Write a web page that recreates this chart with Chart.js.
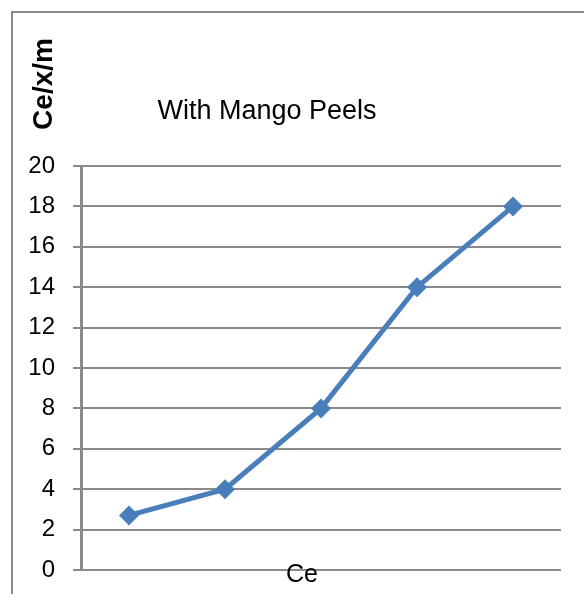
<!DOCTYPE html>
<html>
<head>
<meta charset="utf-8">
<script src="https://cdn.jsdelivr.net/npm/chart.js@4"></script>
<style>
  html, body { margin: 0; padding: 0; background: #fff; overflow: hidden; }
  #wrap { position: relative; width: 584px; height: 594px; }
</style>
</head>
<body>
<div id="wrap"><canvas id="chart" width="584" height="594"></canvas></div>
<script>
// data
const categories = ["1", "2", "3", "4", "5"];
const ceXm = [2.7, 4, 8, 14, 18];
const chartTitle = "With Mango Peels";
const yTitle = "Ce/x/m";
const xTitle = "Ce";

const gridGray = "#8a8a8a";
const lineBlue = "#4a7ebb";
const sans = "'Liberation Sans', Arial, sans-serif";

// frame + free-placed titles, like the spreadsheet export
const decorations = {
  id: "decorations",
  beforeDraw(chart) {
    const ctx = chart.ctx;
    ctx.save();
    ctx.strokeStyle = gridGray;
    ctx.lineWidth = 2;
    ctx.strokeRect(12, 12, 620, 620);
    ctx.restore();
  },
  afterDraw(chart) {
    const ctx = chart.ctx;
    ctx.save();
    ctx.fillStyle = "#000";
    ctx.textAlign = "center";
    ctx.textBaseline = "alphabetic";
    ctx.font = "27px " + sans;
    ctx.fillText(chartTitle, 267, 119);
    ctx.font = "25px " + sans;
    ctx.fillText(xTitle, 302, 582);
    ctx.translate(52, 84);
    ctx.rotate(-Math.PI / 2);
    ctx.font = "bold 28px " + sans;
    ctx.fillText(yTitle, 0, 0);
    ctx.restore();
  }
};

new Chart(document.getElementById("chart"), {
  type: "line",
  data: {
    labels: categories,
    datasets: [{
      data: ceXm,
      borderColor: lineBlue,
      backgroundColor: lineBlue,
      borderWidth: 5,
      pointStyle: "rectRot",
      pointRadius: 10,
      pointBorderWidth: 0,
      tension: 0,
      fill: false
    }]
  },
  options: {
    responsive: false,
    animation: false,
    layout: { padding: { top: 166, right: 23, bottom: 24, left: 0 } },
    plugins: {
      legend: { display: false },
      tooltip: { enabled: false }
    },
    scales: {
      x: {
        type: "category",
        offset: true,
        display: false
      },
      y: {
        min: 0,
        max: 20,
        ticks: {
          stepSize: 2,
          padding: 18,
          color: "#000",
          font: { family: sans, size: 24 }
        },
        grid: {
          color: gridGray,
          lineWidth: 2,
          tickLength: 8,
          drawTicks: true
        },
        border: { color: gridGray, width: 3 },
        afterFit(scale) {
          scale.width = 81;
          scale.paddingTop = 0;
          scale.paddingBottom = 0;
        }
      }
    }
  },
  plugins: [decorations]
});
</script>
</body>
</html>
